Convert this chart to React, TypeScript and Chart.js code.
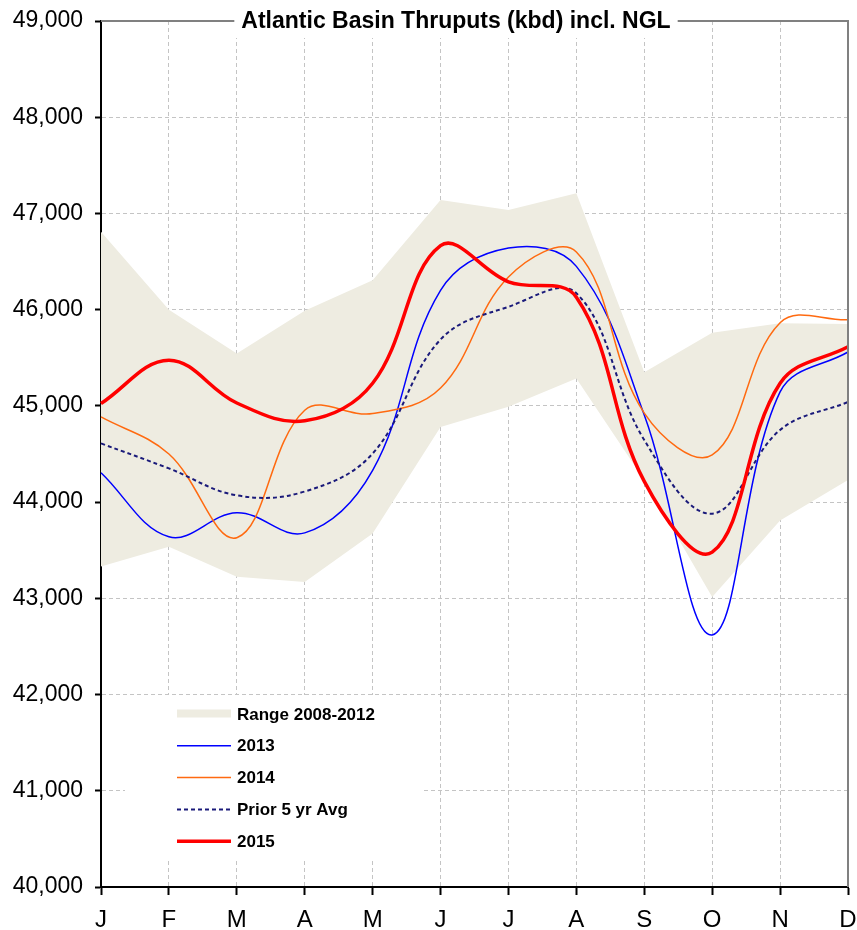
import { useEffect, useRef } from 'react';
import { Chart, registerables } from 'chart.js';

Chart.register(...registerables);

// ---- Data ----
const months = ['J', 'F', 'M', 'A', 'M', 'J', 'J', 'A', 'S', 'O', 'N', 'D'];
const rangeLow2008_2012 = [43330, 43535, 43225, 43170, 43675, 44780, 44990, 45285, 44230, 43015, 43810, 44230];
const rangeHigh2008_2012 = [46810, 46000, 45545, 45990, 46305, 47140, 47035, 47210, 45350, 45760, 45860, 45850];
const y2013 = [44305, 43640, 43890, 43680, 44330, 46200, 46640, 46450, 44905, 42620, 45145, 45560];
const y2014 = [44885, 44500, 43630, 44955, 44920, 45185, 46340, 46600, 44925, 44490, 45865, 45895];
const prior5yrAvg = [44610, 44350, 44070, 44110, 44505, 45690, 46030, 46170, 44645, 43880, 44750, 45040];
const y2015 = [45025, 45475, 45030, 44845, 45235, 46665, 46290, 46130, 44215, 43480, 45235, 45615];
const yMin = 40000;
const yMax = 49000;
const yStep = 1000;
const titleText = 'Atlantic Basin Thruputs (kbd) incl. NGL';

const FONT = "'Liberation Sans', Arial, Helvetica, sans-serif";
const RANGE_COLOR = '#EEECE1';
const GRID_COLOR = '#C4C4C4';

const decorPlugin = {
  id: 'decor',
  afterDatasetsDraw(chart: any) {
    const { ctx, chartArea } = chart;
    const { left, top, right, bottom } = chartArea;
    ctx.save();
    // top and right frame (gray)
    ctx.strokeStyle = '#808080';
    ctx.lineWidth = 2;
    ctx.setLineDash([]);
    ctx.beginPath();
    ctx.moveTo(left, top);
    ctx.lineTo(right, top);
    ctx.lineTo(right, bottom);
    ctx.stroke();

    // title with white background
    ctx.font = `bold 23px ${FONT}`;
    const tw = ctx.measureText(titleText).width;
    const tcx = 456;
    ctx.fillStyle = '#FFFFFF';
    ctx.fillRect(tcx - tw / 2 - 7, top - 14, tw + 14, 31);
    ctx.fillStyle = '#000000';
    ctx.textAlign = 'center';
    ctx.textBaseline = 'middle';
    ctx.fillText(titleText, tcx, top + 1);

    // legend with white background
    ctx.fillStyle = '#FFFFFF';
    ctx.fillRect(125, 695, 298, 163);
    const items = chart.data.datasets
      .filter((d: any) => d.legendRank !== undefined)
      .sort((a: any, b: any) => a.legendRank - b.legendRank);
    ctx.font = `bold 17px ${FONT}`;
    ctx.textAlign = 'left';
    ctx.textBaseline = 'middle';
    items.forEach((d: any, i: number) => {
      const cy = 714 + i * 31.8;
      if (d.legendBox) {
        ctx.fillStyle = d.backgroundColor;
        ctx.fillRect(177, cy - 4.5, 54, 8);
      } else {
        ctx.strokeStyle = d.borderColor;
        ctx.lineWidth = d.borderWidth;
        ctx.setLineDash(d.borderDash || []);
        ctx.beginPath();
        ctx.moveTo(177, cy);
        ctx.lineTo(231, cy);
        ctx.stroke();
        ctx.setLineDash([]);
      }
      ctx.fillStyle = '#000000';
      ctx.fillText(d.label, 237, cy + 1);
    });
    ctx.restore();
  },
};

export default function App() {
  const ref = useRef<HTMLCanvasElement | null>(null);

  useEffect(() => {
    if (!ref.current) return;
    const line = (label: string, data: number[], color: string, width: number, order: number, rank: number, dash?: number[]) => ({
      label,
      data,
      borderColor: color,
      backgroundColor: color,
      borderWidth: width,
      borderDash: dash || [],
      pointRadius: 0,
      pointHoverRadius: 0,
      tension: 0.38,
      fill: false,
      order,
      legendRank: rank,
    });
    const chart = new Chart(ref.current, {
      type: 'line',
      data: {
        labels: months,
        datasets: [
          {
            label: 'Range low',
            data: rangeLow2008_2012,
            borderWidth: 0,
            borderColor: 'rgba(0,0,0,0)',
            pointRadius: 0,
            tension: 0,
            fill: false,
            order: 10,
          },
          {
            label: 'Range 2008-2012',
            data: rangeHigh2008_2012,
            borderWidth: 0,
            borderColor: 'rgba(0,0,0,0)',
            backgroundColor: RANGE_COLOR,
            pointRadius: 0,
            tension: 0,
            fill: '-1',
            order: 9,
            legendRank: 0,
            legendBox: true,
          },
          line('2013', y2013, '#0000FF', 1.5, 4, 1),
          line('2014', y2014, '#FF6A10', 1.5, 3, 2),
          line('Prior 5 yr Avg', prior5yrAvg, '#1A1A7A', 2, 2, 3, [4, 3]),
          line('2015', y2015, '#FF0000', 3.5, 1, 4),
        ] as any,
      },
      options: {
        animation: false,
        responsive: false,
        maintainAspectRatio: false,
        events: [],
        layout: { padding: { left: 0, top: 21, right: 9, bottom: 0 } },
        plugins: {
          legend: { display: false },
          title: { display: false },
          tooltip: { enabled: false },
        },
        scales: {
          x: {
            type: 'category',
            offset: false,
            grid: {
              offset: false,
              color: GRID_COLOR,
              lineWidth: 1,
              drawTicks: true,
              tickLength: 8,
              tickColor: '#000000',
              tickWidth: 2,
            },
            border: { display: true, color: '#000000', width: 2, dash: [4, 3] },
            ticks: {
              color: '#000000',
              font: { family: FONT, size: 24 },
              padding: 11,
              maxRotation: 0,
              autoSkip: false,
            },
            afterFit: (s: any) => {
              s.height = 43;
              s.paddingLeft = 0;
              s.paddingRight = 0;
            },
          },
          y: {
            min: yMin,
            max: yMax,
            grid: {
              color: GRID_COLOR,
              lineWidth: 1,
              drawTicks: true,
              tickLength: 6,
              tickColor: '#000000',
              tickWidth: 2,
            },
            border: { display: true, color: '#000000', width: 2, dash: [4, 3] },
            ticks: {
              stepSize: yStep,
              color: '#000000',
              font: { family: FONT, size: 23 },
              padding: 12,
              callback: (v: any) => Number(v).toLocaleString('en-US'),
            },
            afterFit: (s: any) => {
              s.width = 101;
              s.paddingTop = 0;
              s.paddingBottom = 0;
            },
          },
        },
      } as any,
      plugins: [decorPlugin],
    });
    return () => chart.destroy();
  }, []);

  return (
    <div style={{ position: 'absolute', left: 0, top: 0, width: 857, height: 930 }}>
      <canvas ref={ref} width={857} height={930} style={{ width: 857, height: 930, display: 'block' }} />
    </div>
  );
}
